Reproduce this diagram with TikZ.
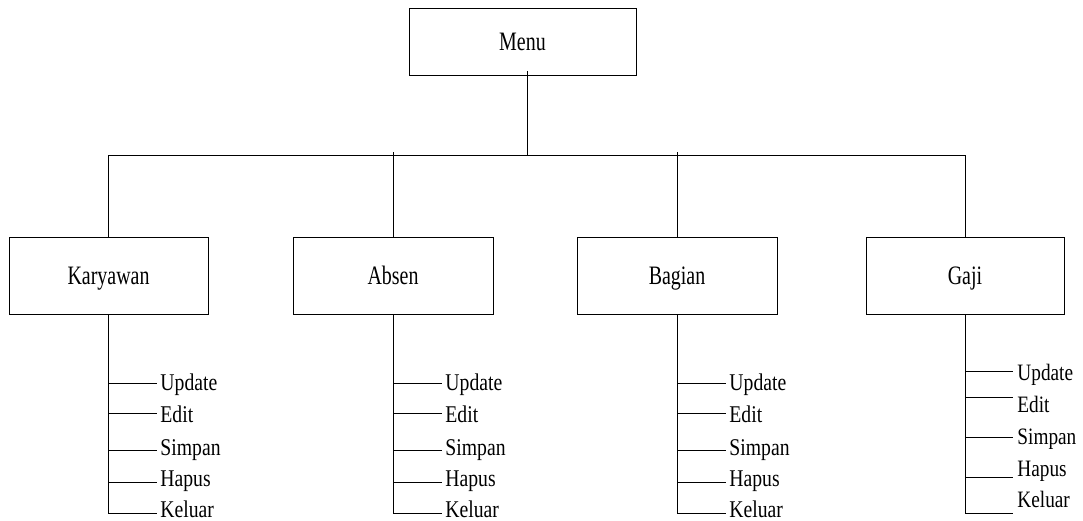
\documentclass[tikz,border=0pt]{standalone}
\usepackage{fontspec}
\setmainfont{Liberation Serif}
\newfontfamily\boxfont[FakeStretch=0.75]{Liberation Serif}
\newfontfamily\itemfont[FakeStretch=0.82]{Liberation Serif}
\begin{document}
\begin{tikzpicture}[x=1pt,y=-1pt,
  line width=0.9pt,
  menubox/.style={draw, line width=0.9pt, inner sep=0pt, text height=17.6pt, text depth=0pt,
    font=\boxfont\fontsize{26.6}{28}\selectfont},
  item/.style={anchor=base west, inner sep=0pt, text depth=0pt, font=\itemfont\fontsize{24}{25}\selectfont},
  gitem/.style={item, font=\itemfont\fontsize{23.5}{24}\selectfont}]
\useasboundingbox (0,0) rectangle (1083,520);

% top menu and module boxes
\node[menubox, minimum width=227pt, minimum height=67pt] (menu) at (522.5,41.5) {Menu};
\node[menubox, minimum width=199pt, minimum height=77pt] (kar) at (108.5,275.5) {Karyawan};
\node[menubox, minimum width=200pt, minimum height=77pt] (abs) at (393,275.5) {Absen};
\node[menubox, minimum width=200pt, minimum height=77pt] (bag) at (677,275.5) {Bagian};
\node[menubox, minimum width=198pt, minimum height=77pt] (gaj) at (965,275.5) {Gaji};

% branching bus
\coordinate (mdown) at (527,71);
\coordinate (mbus) at (527,155);
\coordinate (bkar) at (108,155);
\coordinate (babs) at (393,152);
\coordinate (bbag) at (677,152);
\coordinate (bgaj) at (965,155);
\draw (mdown) -- (mbus);
\draw (bkar) -- (bgaj);
\draw (bkar) -- (kar.north -| bkar);
\draw (babs) -- (abs.north);
\draw (bbag) -- (bag.north);
\draw (bgaj) -- (gaj.north);

% sub-menus of the first three modules
\foreach \m/\x in {kar/108, abs/393, bag/677}{
  \coordinate (\m-t) at (\x,513);
  \draw (\m.south -| \m-t) -- (\m-t);
  \foreach \i/\ly/\by/\t in {1/383/390/Update, 2/413/422/Edit, 3/450/455/Simpan, 4/482/486/Hapus, 5/513/517/Keluar}{
    \coordinate (\m-a\i) at (\x,\ly);
    \coordinate (\m-b\i) at (\x+49,\ly);
    \draw (\m-a\i) -- (\m-b\i);
    \node[item] (\m-l\i) at (\x+52,\by) {\t};
  }
}

% sub-menus of Gaji
\coordinate (gaj-t) at (965,513);
\draw (gaj.south) -- (gaj-t);
\foreach \i/\ly/\by/\t in {1/371/380/Update, 2/397/412/Edit, 3/437/444/Simpan, 4/477/476/Hapus, 5/513/507/Keluar}{
  \coordinate (gaj-a\i) at (965,\ly);
  \coordinate (gaj-b\i) at (1013,\ly);
  \draw (gaj-a\i) -- (gaj-b\i);
  \node[gitem] (gaj-l\i) at (1017,\by) {\t};
}
\end{tikzpicture}
\end{document}
